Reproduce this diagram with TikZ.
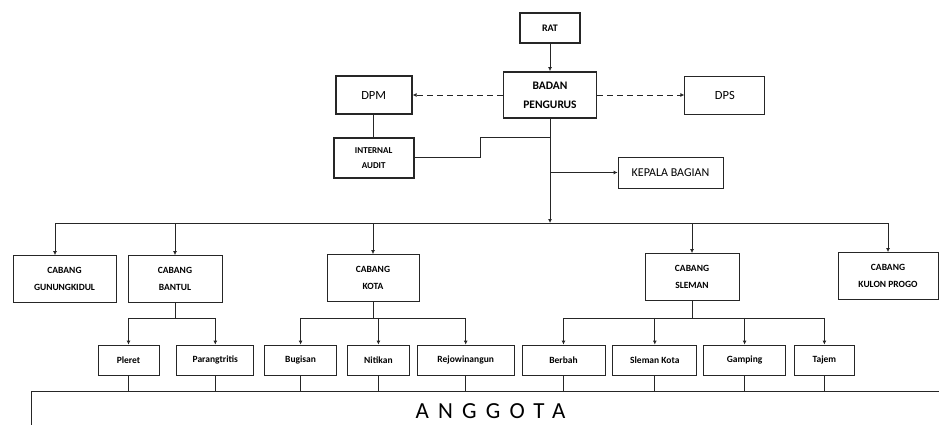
\documentclass[tikz,border=0pt]{standalone}
\usepackage{fontspec}
\setmainfont{Carlito}
\usetikzlibrary{arrows.meta, positioning}

\begin{document}
\begin{tikzpicture}[x=1pt, y=-1pt,
    box/.style={rectangle, draw=black!85, line width=0.8pt, align=center, inner sep=1pt, font=\bfseries\fontsize{9.5}{17}\selectfont},
    thickbox/.style={box, line width=1.8pt},
    cabang/.style={box, minimum height=47pt},
    ranting/.style={box, minimum height=30pt, font=\bfseries\fontsize{9.5}{11}\selectfont},
    arrow/.style={-{Latex[length=4pt, width=4pt]}, line width=0.8pt, draw=black!85},
    dasharrow/.style={arrow, dash pattern=on 6pt off 4pt},
    link/.style={line width=0.8pt, draw=black!85},
]
\useasboundingbox (0,0) rectangle (939,425);

% Pengurus
\node[thickbox, minimum width=60pt, minimum height=30pt, font=\bfseries\fontsize{10}{12}\selectfont] (rat) at (550,28) {RAT};
\node[thickbox, minimum width=93pt, minimum height=46pt, font=\bfseries\fontsize{11.5}{19}\selectfont] (badan) at (550,95) {BADAN\\PENGURUS};
\node[thickbox, minimum width=76pt, minimum height=38pt, font=\fontsize{12.5}{14}\selectfont, left=90pt of badan] (dpm) {DPM};
\node[box, minimum width=80pt, minimum height=38pt, font=\fontsize{12.5}{14}\selectfont, right=87pt of badan] (dps) {DPS};
\node[thickbox, minimum width=80pt, minimum height=40pt, font=\bfseries\fontsize{9}{15}\selectfont, below=22pt of dpm] (audit) {INTERNAL\\AUDIT};
\node[box, minimum width=105pt, minimum height=31pt, font=\fontsize{12}{14}\selectfont] (kabag) at (670.5,172.5) {KEPALA BAGIAN};

% Cabang
\node[cabang, minimum width=103pt] (gunungkidul) at (64.5,279) {CABANG\\GUNUNGKIDUL};
\node[cabang, minimum width=94pt] (bantul) at (175,279) {CABANG\\BANTUL};
\node[cabang, minimum width=92pt] (kota) at (373,278) {CABANG\\KOTA};
\node[cabang, minimum width=94pt] (sleman) at (692,277) {CABANG\\SLEMAN};
\node[cabang, minimum width=100pt] (kulonprogo) at (888,276) {CABANG\\KULON PROGO};

% Ranting
\node[ranting, minimum width=61pt] (pleret) at (128.5,360) {Pleret};
\node[ranting, minimum width=77pt, right=17pt of pleret] (parangtritis) {Parangtritis};
\node[ranting, minimum width=72pt, right=10pt of parangtritis] (bugisan) {Bugisan};
\node[ranting, minimum width=62pt, right=10pt of bugisan] (nitikan) {Nitikan};
\node[ranting, minimum width=97pt, right=7pt of nitikan] (rejowinangun) {Rejowinangun};
\node[ranting, minimum width=83pt, right=7pt of rejowinangun] (berbah) {Berbah};
\node[ranting, minimum width=84pt, right=7pt of berbah] (slemankota) {Sleman Kota};
\node[ranting, minimum width=82pt, right=6pt of slemankota] (gamping) {Gamping};
\node[ranting, minimum width=60pt, right=8pt of gamping] (tajem) {Tajem};

% Anggota
\begin{scope}
\clip (0,0) rectangle (939,425);
\node[box, minimum width=919pt, minimum height=49pt, text height=15pt, text depth=10pt, font=\fontsize{23}{25}\selectfont\addfontfeature{LetterSpace=40}] (anggota) at (490.5,415.5) {ANGGOTA};
\end{scope}

% Arrows
\draw[arrow] (rat) -- (badan);
\draw[dasharrow] (badan.west) -- (dpm.east);
\draw[dasharrow] (badan.east) -- (dps.west);
\draw[link] (dpm.south) -- (dpm.south |- audit.north);
\draw[link] (audit.east) -- ++(66,0) |- (badan.south |- audit.north);
\draw[arrow] (badan.south |- kabag.west) -- (kabag.west);

\coordinate (bus) at (550,223);
\coordinate (busL) at (55,223);
\draw[arrow] (badan.south) -- (bus);
\draw[link] (busL) -- (kulonprogo.north |- bus);
\draw[arrow] (busL) -- (busL |- gunungkidul.north);
\foreach \c in {bantul,kota,sleman,kulonprogo}
    \draw[arrow] (\c.north |- bus) -- (\c.north);

\draw[link] (bantul.south) -- ++(0,15) coordinate (b1);
\draw[link] (pleret.north |- b1) -- (parangtritis.north |- b1);
\foreach \r in {pleret,parangtritis}
    \draw[arrow] (\r.north |- b1) -- (\r.north);

\draw[link] (kota.south) -- ++(0,16) coordinate (k1);
\draw[link] (bugisan.north |- k1) -- (rejowinangun.north |- k1);
\foreach \r in {bugisan,nitikan,rejowinangun}
    \draw[arrow] (\r.north |- k1) -- (\r.north);

\draw[link] (sleman.south) -- ++(0,17) coordinate (s1);
\draw[link] (berbah.north |- s1) -- (tajem.north |- s1);
\foreach \r in {berbah,slemankota,gamping,tajem}
    \draw[arrow] (\r.north |- s1) -- (\r.north);

\foreach \r in {pleret,parangtritis,bugisan,nitikan,rejowinangun,berbah,slemankota,gamping,tajem}
    \draw[link] (\r.south) -- (\r.south |- anggota.north);

\end{tikzpicture}
\end{document}
